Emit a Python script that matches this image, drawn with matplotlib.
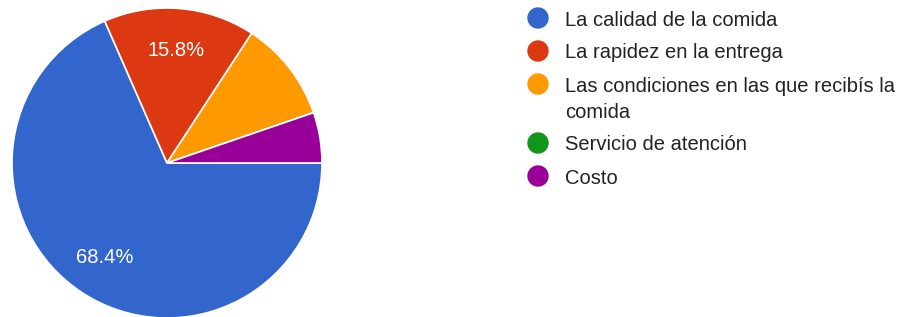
import matplotlib.pyplot as plt
from matplotlib.patches import Circle

plt.rcParams['font.family'] = ['Liberation Sans', 'DejaVu Sans']

labels = ["La calidad de la comida", "La rapidez en la entrega",
          "Las condiciones en las que recibís la\ncomida",
          "Servicio de atención", "Costo"]
values = [13, 3, 2, 0, 1]
colors = ["#3366cc", "#dc3912", "#ff9900", "#109618", "#990099"]

W, H = 913, 317
fig = plt.figure(figsize=(W / 100, H / 100), dpi=100)

# pie
ax = fig.add_axes([12 / W, -1 / H, 310 / W, 310 / H])
wedges, texts, autotexts = ax.pie(
    values, colors=colors, startangle=0, counterclock=False,
    autopct=lambda p: f"{p:.1f}%" if p > 12 else "", pctdistance=0.73,
    wedgeprops=dict(edgecolor="white", linewidth=1.2),
    textprops=dict(color="white", fontsize=14.5))
ax.set_xlim(-1, 1)
ax.set_ylim(-1, 1)
ax.set_aspect("equal")

# legend, drawn in pixel coords
lax = fig.add_axes([0, 0, 1, 1])
lax.set_xlim(0, W)
lax.set_ylim(H, 0)
lax.axis("off")
y = 18
for lab, c in zip(labels, colors):
    lax.add_patch(Circle((538, y), 10, color=c))
    lines = lab.split("\n")
    for i, ln in enumerate(lines):
        lax.text(565, y + 26 * i, ln, fontsize=14.5, color="#222222", va="center_baseline")
    y += 33 + 26 * (len(lines) - 1)

fig.savefig("out.png", dpi=100)
